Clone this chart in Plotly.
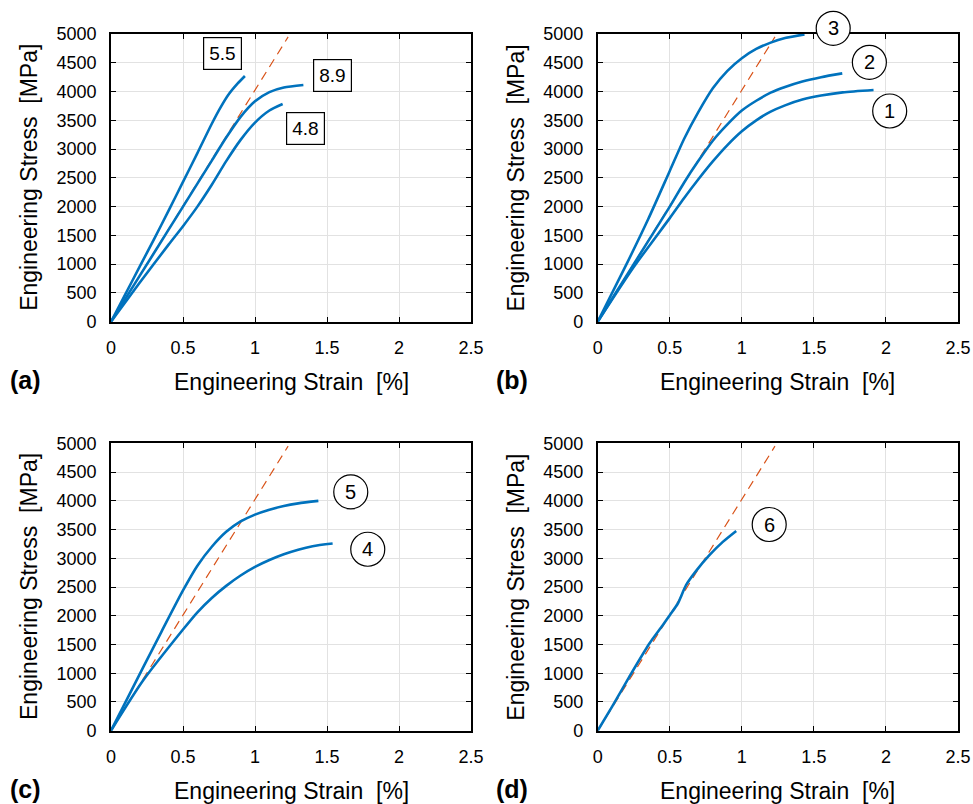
import plotly.graph_objects as go

# ---------------- data ----------------
# reference (elastic) line, same in every panel
ref_x = [0, 1.23]
ref_y = [0, 4950]

# panel (a)
a_55_x = [0, 0.1, 0.2, 0.3, 0.4, 0.5, 0.6, 0.7, 0.76, 0.82, 0.88, 0.93]
a_55_y = [0, 480, 960, 1440, 1930, 2430, 2930, 3440, 3720, 3960, 4140, 4270]
a_89_x = [0, 0.2, 0.4, 0.5, 0.6, 0.7, 0.8, 0.9, 1.0, 1.1, 1.2, 1.336]
a_89_y = [0, 800, 1600, 2000, 2400, 2800, 3200, 3560, 3830, 3990, 4070, 4114]
a_48_x = [0, 0.2, 0.4, 0.5, 0.6, 0.7, 0.8, 0.9, 1.0, 1.1, 1.192]
a_48_y = [0, 680, 1340, 1660, 2000, 2380, 2790, 3160, 3460, 3670, 3783]

# panel (b)
b_1_x = [0, 0.25, 0.5, 0.6, 0.7, 0.8, 0.9, 1.0, 1.1, 1.2, 1.3, 1.42, 1.55, 1.7, 1.914]
b_1_y = [0, 950, 1800, 2150, 2480, 2790, 3070, 3310, 3500, 3650, 3760, 3860, 3930, 3985, 4027]
b_2_x = [0, 0.25, 0.5, 0.6, 0.7, 0.8, 0.9, 1.0, 1.1, 1.2, 1.3, 1.42, 1.55, 1.697]
b_2_y = [0, 1000, 2000, 2420, 2800, 3150, 3430, 3670, 3840, 3980, 4080, 4175, 4250, 4316]
b_3_x = [0, 0.2, 0.35, 0.5, 0.6, 0.7, 0.8, 0.9, 1.0, 1.1, 1.2, 1.3, 1.435]
b_3_y = [0, 1000, 1780, 2620, 3180, 3650, 4060, 4360, 4580, 4740, 4850, 4930, 4994]

# panel (c)
c_4_x = [0, 0.225, 0.5, 0.6, 0.7, 0.8, 0.9, 1.0, 1.1, 1.2, 1.3, 1.4, 1.539]
c_4_y = [0, 880, 1760, 2060, 2310, 2520, 2700, 2850, 2970, 3070, 3150, 3210, 3256]
c_5_x = [0, 0.225, 0.35, 0.5, 0.6, 0.7, 0.8, 0.9, 1.0, 1.1, 1.2, 1.3, 1.44]
c_5_y = [0, 1110, 1720, 2440, 2870, 3200, 3460, 3640, 3760, 3845, 3910, 3955, 3998]

# panel (d)
d_6_x = [0, 0.1, 0.22, 0.36, 0.45, 0.5, 0.556, 0.613, 0.683, 0.775, 0.868, 0.961]
d_6_y = [0, 420, 940, 1520, 1830, 2010, 2213, 2532, 2780, 3053, 3285, 3476]

# labels
box_labels = ["5.5", "8.9", "4.8"]
box_x = [0.771, 1.535, 1.352]
box_y = [4664, 4279, 3366]

circ_b_labels = ["1", "2", "3"]
circ_b_x = [2.026, 1.885, 1.634]
circ_b_y = [3662, 4508, 5099]
circ_c_labels = ["4", "5"]
circ_c_x = [1.783, 1.665]
circ_c_y = [3157, 4154]
circ_d_labels = ["6"]
circ_d_x = [1.19]
circ_d_y = [3587]

x_ticks = [0, 0.5, 1, 1.5, 2, 2.5]
x_ticktext = ["0", "0.5", "1", "1.5", "2", "2.5"]
y_ticks = list(range(0, 5001, 500))
y_ticktext = [str(v) for v in y_ticks]

panel_letters = ["(a)", "(b)", "(c)", "(d)"]
x_title = "Engineering Strain  [%]"
y_title = "Engineering Stress  [MPa]"

# ---------------- styling ----------------
W, H = 973, 804
FONT = "Liberation Sans, Arial, Helvetica, sans-serif"
BLUE = "#0072BD"
ORANGE = "#D95319"
X_RANGE = [0, 2.5]
Y_RANGE = [0, 5000]

# plot areas in pixels: (left, right, top, bottom)
areas = [
    (111, 471, 34, 321.7),
    (597.7, 958, 34, 321.7),
    (111, 471, 443.3, 730.7),
    (597.7, 958, 443.3, 730.7),
]

fig = go.Figure()

curves = [
    [(a_55_x, a_55_y), (a_89_x, a_89_y), (a_48_x, a_48_y)],
    [(b_1_x, b_1_y), (b_2_x, b_2_y), (b_3_x, b_3_y)],
    [(c_4_x, c_4_y), (c_5_x, c_5_y)],
    [(d_6_x, d_6_y)],
]
circles = [
    None,
    (circ_b_x, circ_b_y, circ_b_labels),
    (circ_c_x, circ_c_y, circ_c_labels),
    (circ_d_x, circ_d_y, circ_d_labels),
]


def to_paper(area, xv, yv):
    l, r, t, b = area
    px = l + (xv - X_RANGE[0]) / (X_RANGE[1] - X_RANGE[0]) * (r - l)
    py = b - (yv - Y_RANGE[0]) / (Y_RANGE[1] - Y_RANGE[0]) * (b - t)
    return px / W, 1 - py / H


annotations = []
shapes = []
for i in range(4):
    suf = "" if i == 0 else str(i + 1)
    xr, yr = "x" + suf, "y" + suf
    fig.add_trace(go.Scatter(x=ref_x, y=ref_y, mode="lines", xaxis=xr, yaxis=yr,
                             line=dict(color=ORANGE, width=1.2, dash="9px,6px"),
                             showlegend=False, hoverinfo="skip"))
    for cx, cy in curves[i]:
        fig.add_trace(go.Scatter(x=cx, y=cy, mode="lines", xaxis=xr, yaxis=yr,
                                 line=dict(color=BLUE, width=2.6, shape="spline", smoothing=0.7),
                                 showlegend=False))
    if circles[i] is not None:
        qx, qy, qt = circles[i]
        for xv, yv, tv in zip(qx, qy, qt):
            ax, ay = to_paper(areas[i], xv, yv)
            shapes.append(dict(type="circle", xref="paper", yref="paper",
                               xsizemode="pixel", ysizemode="pixel",
                               xanchor=ax, yanchor=ay, x0=-17, x1=17, y0=-17, y1=17,
                               fillcolor="white", line=dict(color="black", width=1.2),
                               layer="above"))
            annotations.append(dict(xref="paper", yref="paper", x=ax, y=ay, text=tv,
                                    showarrow=False, xanchor="center", yanchor="middle",
                                    font=dict(family=FONT, size=20, color="black")))

    l, r, t, b = areas[i]
    axis_common = dict(showline=True, linecolor="black", linewidth=1.6, mirror="ticks",
                       ticks="inside", ticklen=5, tickwidth=1.3, tickcolor="black",
                       showgrid=True, gridcolor="#e2e2e2", gridwidth=1, zeroline=False,
                       tickfont=dict(family=FONT, size=18, color="black"),
                       ticklabelstandoff=9, automargin=False)
    fig.update_layout(**{
        ("xaxis" + suf): dict(domain=[l / W, r / W], range=X_RANGE, anchor=yr,
                              tickvals=x_ticks, ticktext=x_ticktext, **axis_common),
        ("yaxis" + suf): dict(domain=[1 - b / H, 1 - t / H], range=Y_RANGE, anchor=xr,
                              tickvals=y_ticks, ticktext=y_ticktext, **axis_common),
    })
    # axis titles
    annotations.append(dict(xref="paper", yref="paper", x=(l + r) / 2 / W, y=1 - (b + 60) / H,
                            text=x_title, showarrow=False, xanchor="center", yanchor="middle",
                            font=dict(family=FONT, size=23, color="black")))
    annotations.append(dict(xref="paper", yref="paper", x=(l - 82) / W, y=1 - (t + b) / 2 / H,
                            text=y_title, showarrow=False, textangle=-90,
                            xanchor="center", yanchor="middle",
                            font=dict(family=FONT, size=23, color="black")))
    # panel letters
    annotations.append(dict(xref="paper", yref="paper", x=(l - 86) / W, y=1 - (b + 58) / H,
                            text="<b>" + panel_letters[i] + "</b>", showarrow=False,
                            xanchor="center", yanchor="middle",
                            font=dict(family=FONT, size=25, color="black")))

for txt, bx, by in zip(box_labels, box_x, box_y):
    annotations.append(dict(xref="x", yref="y", x=bx, y=by, text=txt, showarrow=False,
                            bordercolor="black", borderwidth=1.2, borderpad=5, bgcolor="white",
                            font=dict(family=FONT, size=19, color="black")))

fig.update_layout(width=W, height=H, margin=dict(l=0, r=0, t=0, b=0, autoexpand=False),
                  paper_bgcolor="white", plot_bgcolor="white",
                  annotations=annotations, shapes=shapes, showlegend=False)

fig.write_html("out.html",
               config={"displayModeBar": False},
               post_script="document.body.style.margin='0px';"
                           "document.documentElement.style.overflow='hidden';")
